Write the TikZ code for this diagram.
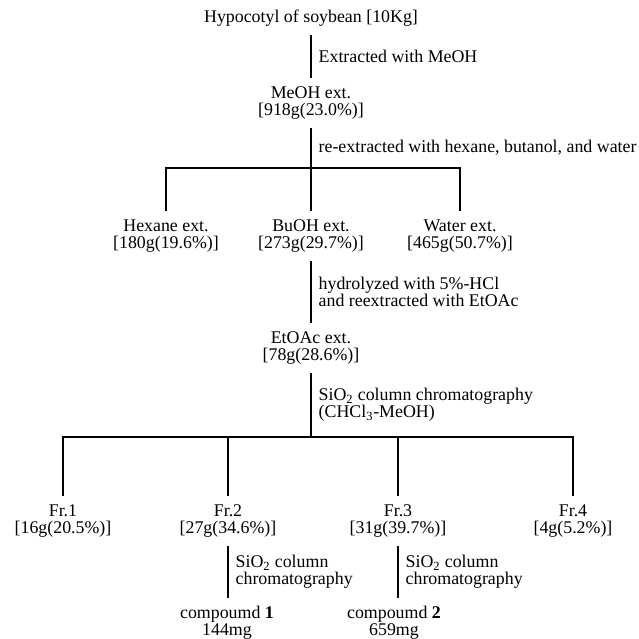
\documentclass[tikz,border=0pt]{standalone}
\usepackage{fontspec}
\setmainfont{Liberation Serif}
\usetikzlibrary{positioning}

\begin{document}
\begin{tikzpicture}[
  x=0.025cm, y=-0.025cm,
  every node/.style={font=\fontsize{12.7}{12.2}\selectfont, align=center},
  item/.style={inner xsep=1pt, inner ysep=6pt},
  cond/.style={right, align=left, inner sep=2pt, xshift=3pt},
  link/.style={line width=0.9pt, black}
]
\useasboundingbox (0,0) rectangle (639,639);

\node[item] (soy) at (311,18) {Hypocotyl of soybean [10Kg]};
\node[item] (meoh) at (311,103) {MeOH ext.\\{}[918g(23.0\%)]};
\node[item] (hexane) at (166,236) {Hexane ext.\\{}[180g(19.6\%)]};
\node[item] (buoh) at (311,236) {BuOH ext.\\{}[273g(29.7\%)]};
\node[item] (water) at (460,236) {Water ext.\\{}[465g(50.7\%)]};
\node[item] (etoac) at (311,348) {EtOAc ext.\\{}[78g(28.6\%)]};
\node[item] (fr1) at (63,521) {Fr.1\\{}[16g(20.5\%)]};
\node[item] (fr2) at (228,521) {Fr.2\\{}[27g(34.6\%)]};
\node[item] (fr3) at (398,521) {Fr.3\\{}[31g(39.7\%)]};
\node[item] (fr4) at (573,521) {Fr.4\\{}[4g(5.2\%)]};
\node[item] (cmpd1) at (227,623) {compoumd \textbf{1}\\144mg};
\node[item] (cmpd2) at (394,623) {compoumd \textbf{2}\\659mg};

\coordinate (split1) at (311,168);
\coordinate (split2) at (311,437);

\draw[link] (soy) -- node[cond] {Extracted with MeOH} (meoh);
\draw[link] (meoh) -- node[cond] {re-extracted with hexane, butanol, and water} (split1);
\draw[link] (hexane) |- (split1) -| (water);
\draw[link] (split1) -- (buoh);
\draw[link] (buoh) -- node[cond] {hydrolyzed with 5\%-HCl\\and reextracted with EtOAc} (etoac);
\draw[link] (etoac) -- node[cond] {SiO\textsubscript{2} column chromatography\\(CHCl\textsubscript{3}-MeOH)} (split2);
\draw[link] (fr1) |- (split2) -| (fr4);
\draw[link] (split2) -| (fr2);
\draw[link] (split2) -| (fr3);
\draw[link] (fr2) -- node[cond] {SiO\textsubscript{2} column\\chromatography} (fr2 |- cmpd1.north);
\draw[link] (fr3) -- node[cond] {SiO\textsubscript{2} column\\chromatography} (fr3 |- cmpd2.north);
\end{tikzpicture}
\end{document}
